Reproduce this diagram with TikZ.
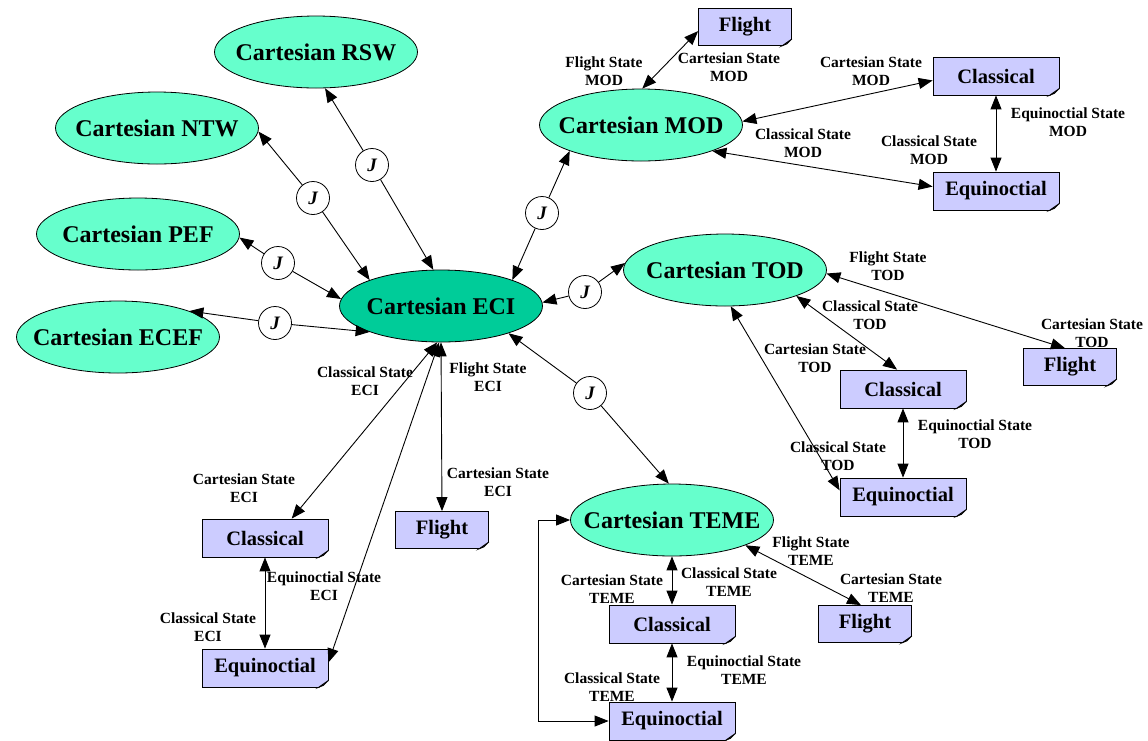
\documentclass[tikz,border=0pt]{standalone}
\usepackage{fontspec}
\setmainfont{Liberation Serif}
\usetikzlibrary{shapes.geometric,arrows.meta,calc}
\definecolor{ellc}{HTML}{66FFCC}
\definecolor{ecic}{HTML}{00CC99}
\definecolor{boxc}{HTML}{CCCCFF}
\newcommand{\zw}[1]{\makebox[0pt]{#1}}
\begin{document}
\begin{tikzpicture}[x=1pt,y=-1pt,
  ell/.style={ellipse, draw, line width=0.8pt, fill=ellc, minimum width=203pt, minimum height=72pt, inner sep=0pt, font=\fontsize{24}{28}\selectfont\bfseries},
  box/.style={rectangle, draw, line width=0.8pt, fill=boxc, minimum width=126pt, minimum height=38pt, inner sep=0pt, font=\fontsize{20.5}{24}\selectfont\bfseries},
  fbox/.style={box, minimum width=93pt, minimum height=37pt},
  jc/.style={circle, draw, line width=0.8pt, fill=white, minimum size=33pt, inner sep=0pt, font=\fontsize{19}{20}\selectfont\bfseries\itshape},
  lbl/.style={align=center, inner sep=0pt, font=\fontsize{15.5}{17.5}\selectfont\bfseries},
  conn/.style={line width=0.9pt, {Triangle[length=14pt,width=11pt]}-{Triangle[length=14pt,width=11pt]}},
  half/.style={line width=0.9pt, -{Triangle[length=14pt,width=11pt]}}
]
\useasboundingbox (0,0) rectangle (1148,740);

% ellipses
\node[ell] (RSW) at (316,52) {\zw{Cartesian RSW}};
\node[ell] (NTW) at (157,128) {\zw{Cartesian NTW}};
\node[ell] (PEF) at (138,234) {\zw{Cartesian PEF}};
\node[ell] (ECEF) at (118,337) {\zw{Cartesian ECEF}};
\node[ell, fill=ecic] (ECI) at (441,306) {\zw{Cartesian ECI}};
\node[ell] (MOD) at (641,125) {\zw{Cartesian MOD}};
\node[ell] (TOD) at (725,270) {\zw{Cartesian TOD}};
\node[ell] (TEME) at (672,520) {\zw{Cartesian TEME}};

% boxes
\node[fbox] (FM) at (745,27) {Flight};
\node[box] (CM) at (996,76) {Classical};
\node[box] (EM) at (996,191) {Equinoctial};
\node[box] (CT) at (903,389) {Classical};
\node[fbox] (FT) at (1070,367) {Flight};
\node[box] (ET) at (903,497) {Equinoctial};
\node[box] (CE) at (265,538) {Classical};
\node[box] (EE) at (265,668) {Equinoctial};
\node[fbox] (FE) at (442,530) {Flight};
\node[box] (CTE) at (672,624) {Classical};
\node[box] (ETE) at (672,721) {Equinoctial};
\node[fbox] (FTE) at (865,624) {Flight};

% folded corners
\foreach \n in {FM,CM,EM,CT,FT,ET,CE,EE,FE,CTE,ETE,FTE}{
  \fill[white] ($(\n.south east)+(-10,1)$) -- ($(\n.south east)+(1,1)$) -- ($(\n.south east)+(1,-7)$) -- cycle;
  \draw[line width=0.8pt, fill=gray!55] ($(\n.south east)+(-10,0)$) -- ($(\n.south east)+(0,-7)$) -- ($(\n.south east)+(-5,-2)$) -- cycle;
}

% J circles
\node[jc] (J1) at (372,165) {J};
\node[jc] (J2) at (313,198) {J};
\node[jc] (J3) at (278,263) {J};
\node[jc] (J4) at (275,323) {J};
\node[jc] (J5) at (542,213) {J};
\node[jc] (J6) at (585,292) {J};
\node[jc] (J7) at (590,393) {J};

% J connectors
\draw[half] (J1) -- (RSW.-76);  \draw[half] (J1) -- (ECI.102);
\draw[half] (J2) -- (NTW.-2);   \draw[half] (J2) -- (ECI.160);
\draw[half] (J3) -- (PEF.-2);   \draw[half] (J3) -- (ECI.176);
\draw[half] (J4) -- (ECEF.20);  \draw[half] (J4) -- (ECI.200);
\draw[half] (J5) -- (MOD.200);  \draw[half] (J5) -- (ECI.20);
\draw[half] (J6) -- (TOD.176);  \draw[half] (J6) -- (ECI.2);
\draw[half] (J7) -- (TEME.95);  \draw[half] (J7) -- (ECI.-22);

% ECI group
\draw[conn] (ECI.-96) -- (CE.36);
\draw[conn] (ECI.-93) -- (EE.5);
\draw[conn] (ECI.south) -- (FE.north);
\draw[conn] (CE.south) -- (EE.north);

% MOD group
\draw[conn] (MOD.88) -- (FM.185);
\draw[conn] (MOD.2) -- (CM.184);
\draw[conn] (MOD.-20) -- (EM.176);
\draw[conn] (CM.south) -- (EM.north);

% TOD group
\draw[conn] (TOD.-2) -- (FT.105);
\draw[conn] (TOD.-20) -- (CT.107);
\draw[conn] (TOD.-81) -- (ET.174);
\draw[conn] (CT.south) -- (ET.north);

% TEME group
\draw[conn] (TEME.south) -- (CTE.north);
\draw[conn] (CTE.south) -- (ETE.north);
\draw[conn] (TEME.-19) -- (FTE.102);
\draw[conn] (ETE.west) -- ++(-70,0) |- (TEME.west);

% labels
\node[lbl] (L1) at (604,71) {Flight State\\MOD};
\node[lbl] (L2) at (729,67) {Cartesian State\\MOD};
\node[lbl] (L3) at (871,71) {Cartesian State\\MOD};
\node[lbl] (L4) at (803,143) {Classical State\\MOD};
\node[lbl] (L5) at (1068,122) {Equinoctial State\\MOD};
\node[lbl] (L6) at (929,150) {Classical State\\MOD};
\node[lbl] (L7) at (888,266) {Flight State\\TOD};
\node[lbl] (L8) at (870,315) {Classical State\\TOD};
\node[lbl] (L9) at (1092,333) {Cartesian State\\TOD};
\node[lbl] (L10) at (815,358) {Cartesian State\\TOD};
\node[lbl] (L11) at (975,434) {Equinoctial State\\TOD};
\node[lbl] (L12) at (838,456) {Classical State\\TOD};
\node[lbl] (L13) at (365,381) {Classical State\\ECI};
\node[lbl] (L14) at (488,377) {Flight State\\ECI};
\node[lbl] (L15) at (498,482) {Cartesian State\\ECI};
\node[lbl] (L16) at (244,488) {Cartesian State\\ECI};
\node[lbl] (L17) at (324,586) {Equinoctial State\\ECI};
\node[lbl] (L18) at (208,627) {Classical State\\ECI};
\node[lbl] (L19) at (811,551) {Flight State\\TEME};
\node[lbl] (L20) at (612,589) {Cartesian State\\TEME};
\node[lbl] (L21) at (729,582) {Classical State\\TEME};
\node[lbl] (L22) at (891,588) {Cartesian State\\TEME};
\node[lbl] (L23) at (744,670) {Equinoctial State\\TEME};
\node[lbl] (L24) at (612,687) {Classical State\\TEME};
\end{tikzpicture}
\end{document}
